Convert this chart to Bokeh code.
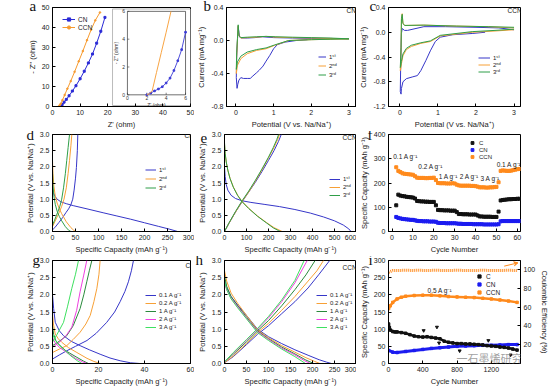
import math
from bokeh.plotting import figure
from bokeh.layouts import column, row
from bokeh.models import (Range1d, LinearAxis, FixedTicker, NumeralTickFormatter, Label, Title,
                          Legend, LegendItem, Arrow, VeeHead)
from bokeh.core.properties import value
from bokeh.embed import file_html
from bokeh.resources import INLINE

SANS = "Liberation Sans"
SERIF = "Liberation Serif"
BLUE = "#3636c8"; ORANGE = "#f7a036"; GREEN = "#2f9e48"
DKGREEN = "#2a8a3c"; MAGENTA = "#ee40e0"; LTGREEN = "#3ee060"
K_C = "#111111"; K_CN = "#1c1cf0"; K_CCN = "#ff8a1c"

# ---------------- data ----------------
# (a) Nyquist
a_cn_x = [3.0, 3.5, 4.2, 5.0, 6.0, 7.2, 8.5, 10.0, 11.5, 13.0, 14.5, 16.0, 17.5, 19.0]
a_cn_y = [0.0, 1.0, 2.2, 3.6, 5.4, 7.8, 10.5, 14.0, 17.8, 22.0, 26.5, 32.0, 38.0, 45.0]
a_ccn_x = [2.2, 2.6, 3.0, 3.6, 4.4, 5.4, 6.6, 8.0, 9.5, 11.0, 12.5, 14.0, 15.5, 17.2]
a_ccn_y = [0.0, 0.6, 1.4, 3.2, 5.8, 9.0, 12.8, 17.5, 22.8, 28.0, 33.5, 38.8, 43.5, 47.5]
ins_cn_x = [2.0, 2.4, 2.8, 3.2, 3.6, 4.0, 4.4, 4.8, 5.2, 5.6, 6.0]
ins_cn_y = [0.0, 0.12, 0.28, 0.42, 0.58, 0.85, 1.2, 1.75, 2.45, 3.25, 4.5]
ins_ccn_x = [2.0, 2.3, 2.55, 3.0, 3.5, 4.0, 4.5]
ins_ccn_y = [0.0, 0.1, 0.27, 1.6, 3.05, 4.5, 6.0]
ins_ticks = [0, 2, 4, 6]

# (b) CV of CN
b1_x = [1.9, 1.6, 1.3, 1.1, 1.0, 0.9, 0.8, 0.72, 0.62, 0.55, 0.45, 0.38, 0.3, 0.2, 0.13, 0.08, 0.05, 0.03, 0.01, 0.02, 0.04, 0.06, 0.08, 0.1, 0.15, 0.3, 0.5, 0.7, 1.0, 1.5, 2.0, 2.5, 3.0]
b1_y = [0.01, 0.0, -0.02, -0.05, -0.1, -0.18, -0.25, -0.31, -0.36, -0.39, -0.43, -0.46, -0.46, -0.46, -0.45, -0.48, -0.53, -0.58, -0.45, -0.2, 0.0, 0.17, 0.1, 0.04, 0.03, 0.03, 0.035, 0.045, 0.035, 0.03, 0.025, 0.025, 0.02]
b2_x = [3.0, 2.5, 2.0, 1.4, 1.02, 0.8, 0.55, 0.3, 0.13, 0.04, 0.02, 0.01, 0.02, 0.04, 0.06, 0.08, 0.13, 0.3, 0.55, 0.8, 1.06, 1.5, 2.0, 2.5, 3.0]
b2_y = [0.02, 0.015, 0.01, 0.0, -0.06, -0.1, -0.12, -0.16, -0.22, -0.3, -0.37, -0.4, -0.2, 0.0, 0.18, 0.06, 0.03, 0.035, 0.04, 0.05, 0.04, 0.035, 0.03, 0.025, 0.02]
b3_x = [3.0, 2.5, 2.0, 1.4, 1.02, 0.8, 0.55, 0.3, 0.13, 0.04, 0.02, 0.01, 0.02, 0.04, 0.06, 0.08, 0.13, 0.3, 0.55, 0.8, 1.06, 1.5, 2.0, 2.5, 3.0]
b3_y = [0.02, 0.015, 0.01, 0.0, -0.055, -0.09, -0.11, -0.14, -0.19, -0.26, -0.32, -0.35, -0.15, 0.02, 0.19, 0.06, 0.035, 0.04, 0.045, 0.05, 0.045, 0.04, 0.035, 0.03, 0.02]

# (c) CV of CCN
c1_x = [2.24, 1.9, 1.39, 1.06, 0.93, 0.8, 0.68, 0.55, 0.46, 0.34, 0.17, 0.08, 0.04, 0.03, 0.01, 0.02, 0.04, 0.06, 0.08, 0.12, 0.2, 0.63, 1.2, 2.0, 2.6, 3.0]
c1_y = [0.0, -0.02, -0.04, -0.08, -0.15, -0.3, -0.46, -0.62, -0.7, -0.72, -0.75, -0.8, -0.91, -1.0, -0.96, -0.54, -0.02, 0.06, 0.05, 0.03, 0.03, 0.09, 0.09, 0.08, 0.07, 0.04]
c2_x = [3.0, 2.5, 1.9, 1.06, 0.8, 0.55, 0.3, 0.17, 0.08, 0.04, 0.02, 0.01, 0.03, 0.04, 0.06, 0.08, 0.13, 0.63, 1.48, 2.32, 3.0]
c2_y = [0.04, 0.02, 0.0, -0.06, -0.15, -0.18, -0.23, -0.28, -0.38, -0.51, -0.6, -0.62, -0.28, 0.2, 0.3, 0.14, 0.11, 0.115, 0.1, 0.09, 0.07]
c3_x = [3.0, 2.5, 1.9, 1.06, 0.8, 0.55, 0.3, 0.17, 0.08, 0.04, 0.02, 0.01, 0.03, 0.04, 0.06, 0.08, 0.13, 0.63, 1.48, 2.32, 3.0]
c3_y = [0.05, 0.03, 0.01, -0.05, -0.14, -0.17, -0.21, -0.26, -0.35, -0.47, -0.55, -0.57, -0.25, 0.22, 0.29, 0.14, 0.11, 0.115, 0.1, 0.09, 0.08]

# (d) CN first three cycles
d1_dis_x = [0, 2, 5, 10, 18, 30, 45, 75, 110, 140, 170, 200, 230, 255, 272]
d1_dis_y = [1.33, 1.2, 1.1, 1.0, 0.92, 0.86, 0.8, 0.7, 0.58, 0.48, 0.38, 0.27, 0.16, 0.07, 0.0]
d1_ch_x = [0, 5, 14, 22, 29, 35, 40, 44, 47, 50, 52, 54, 55]
d1_ch_y = [0.05, 0.12, 0.28, 0.43, 0.58, 0.7, 0.83, 1.0, 1.28, 1.65, 1.98, 2.5, 3.0]
d2_dis_x = [0, 1, 3, 6, 10, 15, 20, 30, 40, 46, 50]
d2_dis_y = [2.2, 1.8, 1.4, 1.1, 0.88, 0.7, 0.55, 0.3, 0.12, 0.04, 0.0]
d2_ch_x = [0, 5, 10, 15, 20, 25, 30, 34, 37, 40, 42]
d2_ch_y = [0.15, 0.3, 0.45, 0.6, 0.78, 1.0, 1.35, 1.8, 2.2, 2.65, 3.0]
d3_dis_x = [0, 1, 3, 6, 10, 15, 20, 28, 35, 40]
d3_dis_y = [1.9, 1.45, 1.1, 0.84, 0.63, 0.46, 0.33, 0.15, 0.04, 0.0]
d3_ch_x = [0, 4, 8, 12, 16, 20, 24, 28, 31, 34, 37]
d3_ch_y = [0.2, 0.33, 0.48, 0.62, 0.78, 1.0, 1.35, 1.8, 2.2, 2.6, 3.0]

# (e) CCN first three cycles
e1_dis_x = [0, 3, 8, 15, 30, 50, 80, 120, 180, 250, 320, 390, 450, 500, 540, 565, 575]
e1_dis_y = [2.0, 1.7, 1.45, 1.28, 1.12, 1.02, 0.95, 0.9, 0.84, 0.77, 0.68, 0.57, 0.45, 0.33, 0.2, 0.08, 0.0]
e1_ch_x = [0, 20, 50, 80, 110, 140, 170, 200, 225, 245, 258]
e1_ch_y = [0.0, 0.25, 0.6, 0.92, 1.22, 1.52, 1.85, 2.2, 2.5, 2.78, 3.0]
e2_dis_x = [0, 3, 8, 15, 25, 40, 60, 80, 110, 150, 190, 225, 250, 262]
e2_dis_y = [2.7, 2.4, 2.15, 1.9, 1.65, 1.38, 1.12, 0.93, 0.72, 0.48, 0.28, 0.12, 0.04, 0.0]
e2_ch_x = [0, 20, 50, 80, 110, 140, 170, 200, 225, 242, 250]
e2_ch_y = [0.0, 0.25, 0.6, 0.93, 1.22, 1.55, 1.9, 2.28, 2.6, 2.85, 3.0]
e3_dis_x = [0, 3, 8, 15, 25, 40, 60, 80, 110, 150, 190, 222, 245, 255]
e3_dis_y = [2.75, 2.42, 2.15, 1.9, 1.64, 1.37, 1.11, 0.92, 0.71, 0.47, 0.27, 0.11, 0.03, 0.0]
e3_ch_x = [0, 20, 50, 80, 110, 140, 170, 200, 222, 238, 246]
e3_ch_y = [0.0, 0.26, 0.62, 0.95, 1.25, 1.58, 1.93, 2.3, 2.6, 2.85, 3.0]

# (f) rate capability
f_cycle = list(range(2, 62))
f_c = [108, 152, 148, 146, 145, 143, 142, 141, 140, 136,
       126, 125, 124, 124, 123, 123, 122, 122, 122, 108,
       89, 88, 88, 87, 87, 87, 86, 86, 86, 80,
       72, 72, 71, 71, 71, 70, 70, 70, 70, 66,
       62, 62, 61, 61, 61, 61, 60, 60, 60, 82,
       128, 130, 131, 132, 133, 133, 134, 134, 135, 135]
f_cn = [60, 56, 54, 52, 51, 50, 49, 48, 48, 46,
        44, 43, 43, 42, 42, 42, 41, 41, 41, 40,
        36, 35, 35, 35, 34, 34, 34, 34, 34, 33,
        32, 32, 31, 31, 31, 31, 31, 30, 30, 30,
        30, 30, 29, 29, 29, 29, 29, 29, 29, 30,
        42, 43, 43, 43, 43, 43, 43, 43, 43, 43]
f_ccn = [265, 250, 245, 240, 238, 237, 236, 235, 234, 228,
         222, 221, 221, 221, 220, 220, 221, 221, 222, 212,
         200, 199, 199, 199, 198, 198, 198, 199, 198, 193,
         190, 189, 189, 189, 189, 189, 188, 188, 187, 185,
         182, 182, 182, 181, 181, 182, 182, 183, 184, 203,
         250, 252, 251, 250, 250, 251, 253, 255, 257, 258]
f_rate_labels = ["0.1 A g\u207b\u00b9", "0.2 A g\u207b\u00b9", "1 A g\u207b\u00b9", "2 A g\u207b\u00b9", "3 A g\u207b\u00b9", "0.1 A g\u207b\u00b9"]
f_rate_x = [6.5, 18.5, 27, 37, 47, 56]
f_rate_y = [310, 266, 226, 226, 218, 278]

# (g) CN rates
g01_dis_x = [0, 0.5, 1.2, 3, 4.8, 8, 12, 16, 20.7, 25, 29.4, 34, 38]
g01_dis_y = [2.0, 1.6, 1.2, 0.95, 0.81, 0.65, 0.52, 0.4, 0.27, 0.16, 0.08, 0.02, 0.0]
g01_ch_x = [0, 3, 6.2, 10, 15, 19, 23.6, 27, 29.4, 31.5, 33, 34.3, 35.2]
g01_ch_y = [0.13, 0.25, 0.37, 0.5, 0.67, 0.88, 1.2, 1.5, 1.8, 2.1, 2.38, 2.7, 3.0]
g02_dis_x = [0, 0.4, 1.2, 2.5, 4, 7, 10.6, 15, 18, 20.7]
g02_dis_y = [1.45, 1.15, 0.86, 0.72, 0.62, 0.46, 0.32, 0.15, 0.06, 0.0]
g02_ch_x = [0, 3, 6.2, 9, 12, 14.5, 16.4, 18, 19.3, 20.2, 20.7]
g02_ch_y = [0.32, 0.42, 0.52, 0.7, 0.91, 1.15, 1.4, 1.8, 2.19, 2.6, 3.0]
g1_dis_x = [0, 0.5, 1.5, 3.3, 6, 10.6, 13.5, 15.6]
g1_dis_y = [1.1, 0.85, 0.66, 0.52, 0.36, 0.18, 0.07, 0.0]
g1_ch_x = [0, 3, 6.2, 9, 12, 13.6, 14.9, 16, 17.1]
g1_ch_y = [0.52, 0.65, 0.81, 1.1, 1.6, 2.0, 2.38, 2.7, 3.0]
g2_dis_x = [0, 1, 3, 6.2, 10, 13, 15]
g2_dis_y = [0.76, 0.62, 0.47, 0.32, 0.15, 0.05, 0.0]
g2_ch_x = [0, 3, 6, 8.4, 10.5, 12, 13.5, 14.9]
g2_ch_y = [0.47, 0.62, 0.82, 1.06, 1.55, 2.09, 2.55, 3.0]
g3_dis_x = [0, 1, 2.5, 4.8, 8, 11, 12.8]
g3_dis_y = [0.86, 0.7, 0.56, 0.42, 0.22, 0.07, 0.0]
g3_ch_x = [0, 2, 4.8, 6.5, 8.4, 10, 11.3]
g3_ch_y = [0.62, 0.85, 1.2, 1.65, 2.19, 2.6, 3.0]

# (h) CCN rates
h01_dis_x = [0, 5, 15, 30, 50, 75, 100, 130, 160, 190, 215, 232, 243]
h01_dis_y = [2.45, 2.2, 1.95, 1.7, 1.4, 1.0, 0.78, 0.58, 0.4, 0.24, 0.11, 0.04, 0.0]
h01_ch_x = [0, 20, 50, 75, 100, 130, 160, 190, 215, 239]
h01_ch_y = [0.02, 0.2, 0.55, 0.85, 1.1, 1.45, 1.8, 2.2, 2.6, 3.0]
h02_dis_x = [0, 5, 15, 30, 50, 75, 100, 130, 160, 185, 205, 217]
h02_dis_y = [2.7, 2.4, 2.05, 1.75, 1.4, 0.98, 0.75, 0.52, 0.33, 0.17, 0.06, 0.0]
h02_ch_x = [0, 20, 50, 75, 100, 130, 160, 190, 210, 225]
h02_ch_y = [0.02, 0.22, 0.58, 0.9, 1.17, 1.55, 1.95, 2.4, 2.7, 3.0]
h1_dis_x = [0, 5, 15, 30, 50, 75, 100, 130, 160, 185, 203]
h1_dis_y = [2.55, 2.25, 1.95, 1.68, 1.35, 0.95, 0.72, 0.48, 0.28, 0.1, 0.0]
h1_ch_x = [0, 20, 50, 75, 100, 130, 160, 185, 206]
h1_ch_y = [0.05, 0.27, 0.63, 0.95, 1.25, 1.68, 2.15, 2.58, 3.0]
h2_dis_x = [0, 5, 15, 30, 50, 75, 100, 130, 160, 182, 195]
h2_dis_y = [2.35, 2.15, 1.9, 1.65, 1.32, 0.93, 0.7, 0.45, 0.25, 0.08, 0.0]
h2_ch_x = [0, 20, 50, 75, 100, 130, 160, 188]
h2_ch_y = [0.05, 0.3, 0.68, 1.0, 1.33, 1.8, 2.35, 3.0]
h3_dis_x = [0, 5, 15, 30, 50, 75, 100, 130, 160, 184]
h3_dis_y = [2.4, 2.15, 1.88, 1.62, 1.3, 0.9, 0.67, 0.42, 0.2, 0.0]
h3_ch_x = [0, 20, 50, 75, 100, 130, 160, 181]
h3_ch_y = [0.05, 0.32, 0.7, 1.02, 1.37, 1.85, 2.42, 3.0]

# (i) long cycling at 0.5 A/g
i_ccn_x = [1, 20, 50, 100, 150, 200, 300, 400, 500, 600, 700, 800, 900, 1000, 1100, 1200, 1300, 1400, 1500]
i_ccn_y = [160, 168, 178, 188, 193, 196, 198, 199, 199, 197, 195, 194, 193, 192, 190, 188, 185, 182, 178]
i_c_x = [1, 10, 25, 50, 75, 100, 150, 200, 250, 300, 350, 400, 450, 500, 550, 600, 650, 700, 750, 800, 850, 900, 950, 1000, 1050, 1100, 1150, 1200, 1250, 1300, 1350, 1400, 1450, 1500]
i_c_y = [115, 105, 97, 93, 92, 92, 90, 88, 84, 80, 78, 77, 78, 76, 74, 72, 65, 62, 60, 58, 58, 57, 57, 56, 55, 54, 52, 51, 50, 48, 47, 45, 42, 39]
i_c_out_x = [410, 565, 590, 830, 1165, 1425]
i_c_out_y = [96, 106, 60, 37, 67, 25]
i_cn_x = [1, 50, 100, 200, 300, 400, 500, 600, 700, 800, 900, 1000, 1100, 1200, 1300, 1400, 1500]
i_cn_y = [38, 33, 32, 35, 38, 41, 44, 46, 48, 50, 51, 52, 53, 53, 54, 55, 55]
i_ce_x = [1, 50, 100, 150, 200, 250, 300, 350, 400, 450, 500, 550, 600, 650, 700, 750, 800, 850, 900, 950, 1000, 1050, 1100, 1150, 1200, 1250, 1300, 1350, 1400, 1450, 1500]
i_ce_y = [97, 98.8, 99, 99, 99.1, 99, 99, 99.1, 99, 99, 99, 99.1, 99, 99, 99, 99, 99.1, 99, 99, 99, 99, 99, 99.1, 99, 99, 99, 99, 99, 99.1, 99, 99]

# ---------------- layout (page has no margin: origin at 0,0) ----------------
COLS = [(194, 52, 4), (162, 26, 0), (198, 27, 34)]   # width, border left, border right
ROWS = [(131, 7, 22), (125, 3, 22), (133, 4, 26)]     # height, border top, border bottom


def style_axis(ax):
    ax.major_tick_in = 3
    ax.major_tick_out = 0
    ax.minor_tick_in = 0
    ax.minor_tick_out = 0
    ax.axis_line_color = "black"
    ax.major_tick_line_color = "black"
    ax.major_label_text_font = SANS
    ax.major_label_text_font_size = "7px"
    ax.major_label_text_color = "#222222"
    ax.axis_label_text_font = SANS
    ax.axis_label_text_font_size = "7.5px"
    ax.axis_label_text_font_style = "normal"
    ax.axis_label_text_color = "#222222"
    ax.major_label_standoff = 3
    ax.axis_label_standoff = 2


def make(ci, ri, xr, yr, xt, yt, xf, yf, xl, yl):
    w, bl, br = COLS[ci]
    h, bt, bb = ROWS[ri]
    p = figure(width=w, height=h, x_range=Range1d(*xr), y_range=Range1d(*yr),
               output_backend="svg", toolbar_location=None,
               min_border_left=bl, min_border_right=br, min_border_top=bt, min_border_bottom=bb)
    p.xgrid.visible = False
    p.ygrid.visible = False
    p.outline_line_color = "black"
    p.outline_line_alpha = 1.0
    p.outline_line_width = 1
    p.xaxis.ticker = FixedTicker(ticks=xt)
    p.yaxis.ticker = FixedTicker(ticks=yt)
    p.xaxis.formatter = NumeralTickFormatter(format=xf)
    p.yaxis.formatter = NumeralTickFormatter(format=yf)
    p.xaxis.axis_label = xl
    p.yaxis.axis_label = yl
    style_axis(p.xaxis[0])
    style_axis(p.yaxis[0])
    return p, w - bl - br, h - bt - bb, bt


def letter(p, t, off, bt):
    # panel letter drawn as a side title that reaches down next to the frame's top-left corner
    p.add_layout(Title(text=t, align="left", vertical_align="bottom", offset=off,
                       standoff=bt - 19, text_font=SERIF, text_font_size="15px",
                       text_font_style="normal", text_color="#111111"), "above")


def tag(p, t, x, y, align="right"):
    p.add_layout(Label(x=x, y=y, x_units="screen", y_units="screen", text=t,
                       text_font=SANS, text_font_size="6.5px", text_align=align,
                       text_baseline="middle", text_color="#222222"))


def legend(p, entries, vx, vy, gw, ih, fs="6.5px"):
    items = [LegendItem(label=lab, renderers=rs) for lab, rs in entries]
    lg = Legend(items=items, location=(vx, vy), padding=0, margin=0, spacing=0,
                glyph_width=gw, glyph_height=ih, label_height=ih, label_standoff=3,
                label_text_font=SANS, label_text_font_size=fs, label_text_color="#222222",
                background_fill_alpha=0, border_line_alpha=0)
    p.add_layout(lg)


POT = "Potential (V vs. Na/Na\u207a)"
CUR = "Current (mA mg\u207b\u00b9)"
CAP = "Specific Capacity (mAh g\u207b\u00b9)"
SUP = ["1\u02e2\u1d57", "2\u207f\u1d48", "3\u02b3\u1d48"]

# ---- (a)
pa, fwa, fha, bta = make(0, 0, (0, 50), (0, 50), [0, 10, 20, 30, 40, 50], [0, 10, 20, 30, 40, 50],
                         "0", "0", "Z' (ohm)", "- Z'' (ohm)")
ra1 = pa.line(a_cn_x, a_cn_y, color="#2a2ad6", line_width=1)
ra1m = pa.scatter(a_cn_x, a_cn_y, marker="square", size=2, color="#2a2ad6")
ra2 = pa.line(a_ccn_x, a_ccn_y, color="#f79a2e", line_width=1)
ra2m = pa.scatter(a_ccn_x, a_ccn_y, marker="circle", size=1.6, color="#f79a2e")
legend(pa, [("CN", [ra1, ra1m]), ("CCN", [ra2, ra2m])], 10, 75, 13, 8)
# inset placed with its own ranges
fx0, fx1, fy0, fy1 = 0.543, 0.964, 0.118, 0.961
sx = 6 / (fx1 - fx0)
sy = 6 / (fy1 - fy0)
pa.extra_x_ranges = {"ix": Range1d(-fx0 * sx, -fx0 * sx + sx)}
pa.extra_y_ranges = {"iy": Range1d(-fy0 * sy, -fy0 * sy + sy)}
ox0 = -fx0 * sx + 0.435 * sx
oy0 = -fy0 * sy + 0.01 * sy
oy1 = -fy0 * sy + 0.985 * sy
pa.quad(left=[ox0], right=[-fx0 * sx + sx], bottom=[oy0], top=[oy1], fill_color="white",
        line_color="#aaaaaa", line_width=0.8, x_range_name="ix", y_range_name="iy")
pa.quad(left=[ins_ticks[0]], right=[ins_ticks[-1]], bottom=[ins_ticks[0]], top=[ins_ticks[-1]],
        fill_color=None, line_color="#333333", line_width=0.7, x_range_name="ix", y_range_name="iy")
pa.segment(x0=ins_ticks, y0=[0] * 4, x1=ins_ticks, y1=[0.15] * 4, color="#333333", line_width=0.6,
           x_range_name="ix", y_range_name="iy")
pa.segment(x0=[0] * 4, y0=ins_ticks, x1=[0.2] * 4, y1=ins_ticks, color="#333333", line_width=0.6,
           x_range_name="ix", y_range_name="iy")
pa.line(ins_cn_x, ins_cn_y, color="#3b3bd6", line_width=0.9, x_range_name="ix", y_range_name="iy")
pa.scatter(ins_cn_x, ins_cn_y, marker="square", size=1.6, color="#3b3bd6", x_range_name="ix", y_range_name="iy")
pa.line(ins_ccn_x, ins_ccn_y, color="#f79a2e", line_width=0.9, x_range_name="ix", y_range_name="iy")
pa.text(x=ins_ticks, y=[-0.12] * 4, text=[str(t) for t in ins_ticks], text_font=value(SANS),
        text_font_size=value("5px"), text_align="center", text_baseline="top", text_color="#333333",
        x_range_name="ix", y_range_name="iy")
pa.text(x=[-0.25] * 4, y=ins_ticks, text=[str(t) for t in ins_ticks], text_font=value(SANS),
        text_font_size=value("5px"), text_align="right", text_baseline="middle", text_color="#333333",
        x_range_name="ix", y_range_name="iy")
pa.text(x=[3], y=[-0.5], text=["Z' (ohm)"], text_font=value(SANS), text_font_size=value("5px"),
        text_align="center", text_baseline="top", text_color="#333333", x_range_name="ix", y_range_name="iy")
pa.text(x=[-1.15], y=[3], text=["- Z'' (ohm)"], text_font=value(SANS), text_font_size=value("5px"),
        text_align="center", text_baseline="middle", angle=math.pi / 2, text_color="#333333",
        x_range_name="ix", y_range_name="iy")
letter(pa, "a", -23, bta)

# ---- (b)
pb, fwb, fhb, btb = make(1, 0, (-0.25, 3.2), (-0.8, 0.4), [0, 1, 2, 3], [-0.8, -0.4, 0.0, 0.4],
                         "0", "0.0", POT, CUR)
rb1 = pb.line(b1_x, b1_y, color=BLUE, line_width=1)
rb2 = pb.line(b2_x, b2_y, color=ORANGE, line_width=1)
rb3 = pb.line(b3_x, b3_y, color=GREEN, line_width=1)
legend(pb, [(SUP[0], [rb1]), (SUP[1], [rb2]), (SUP[2], [rb3])], 92, 27, 8, 9, "6px")
tag(pb, "CN", fwb - 16, fhb - 6, "left")
letter(pb, "b", -23, btb)

# ---- (c)
pc, fwc, fhc, btc = make(2, 0, (-0.3, 3.17), (-1.2, 0.4), [0, 1, 2, 3], [-1.2, -0.8, -0.4, 0.0, 0.4],
                         "0", "0.0", POT, CUR)
rc1 = pc.line(c1_x, c1_y, color=BLUE, line_width=1)
rc2 = pc.line(c2_x, c2_y, color=ORANGE, line_width=1)
rc3 = pc.line(c3_x, c3_y, color=GREEN, line_width=1)
legend(pc, [(SUP[0], [rc1]), (SUP[1], [rc2]), (SUP[2], [rc3])], 90, 31, 12, 7, "6px")
tag(pc, "CCN", fwc - 18, fhc - 6, "left")
letter(pc, "c", -19, btc)

# ---- (d)
pd, fwd, fhd, btd = make(0, 1, (0, 300), (0, 3), [0, 50, 100, 150, 200, 250, 300], [0, 0.5, 1, 1.5, 2, 2.5, 3],
                         "0", "0.0", CAP, POT)
rd1 = pd.line(d1_dis_x, d1_dis_y, color=BLUE, line_width=1)
pd.line(d1_ch_x, d1_ch_y, color=BLUE, line_width=1)
rd2 = pd.line(d2_dis_x, d2_dis_y, color=ORANGE, line_width=1)
pd.line(d2_ch_x, d2_ch_y, color=ORANGE, line_width=1)
rd3 = pd.line(d3_dis_x, d3_dis_y, color=GREEN, line_width=1)
pd.line(d3_ch_x, d3_ch_y, color=GREEN, line_width=1)
legend(pd, [(SUP[0], [rd1]), (SUP[1], [rd2]), (SUP[2], [rd3])], 93, 39, 11, 9, "6px")
tag(pd, "CN", fwd - 6, fhd - 4, "left")
letter(pd, "d", -26, btd)

# ---- (e)
pe, fwe, fhe, bte = make(1, 1, (0, 600), (0, 3), [0, 100, 200, 300, 400, 500, 600], [0, 0.5, 1, 1.5, 2, 2.5, 3],
                         "0", "0.0", CAP, POT)
re1 = pe.line(e1_dis_x, e1_dis_y, color=BLUE, line_width=1)
pe.line(e1_ch_x, e1_ch_y, color=BLUE, line_width=1)
re2 = pe.line(e2_dis_x, e2_dis_y, color=ORANGE, line_width=1)
pe.line(e2_ch_x, e2_ch_y, color=ORANGE, line_width=1)
re3 = pe.line(e3_dis_x, e3_dis_y, color=GREEN, line_width=1)
pe.line(e3_ch_x, e3_ch_y, color=GREEN, line_width=1)
legend(pe, [(SUP[0], [re1]), (SUP[1], [re2]), (SUP[2], [re3])], 105, 32, 11, 8, "6px")
tag(pe, "CCN", fwe - 18, fhe - 6, "left")
letter(pe, "e", -24, bte)

# ---- (f)
pf, fwf, fhf, btf = make(2, 1, (-1.7, 61.5), (0, 400), [0, 10, 20, 30, 40, 50, 60], [0, 100, 200, 300, 400],
                         "0", "0", "Cycle Number", CAP)
rf1 = pf.scatter(f_cycle, f_c, marker="square", size=3, color=K_C)
rf2 = pf.scatter(f_cycle, f_cn, marker="square", size=3, color=K_CN)
rf3 = pf.scatter(f_cycle, f_ccn, marker="square", size=3, color=K_CCN)
legend(pf, [("C", [rf1]), ("CN", [rf2]), ("CCN", [rf3])], 80, 71, 8, 7, "6px")
for t, x, y in zip(f_rate_labels, f_rate_x, f_rate_y):
    pf.add_layout(Label(x=x, y=y, text=t, text_font=SANS, text_font_size="6.5px",
                        text_align="center", text_baseline="middle", text_color="#222222"))
letter(pf, "f", -21, btf)

# ---- (g)
pg, fwg, fhg, btg = make(0, 2, (0, 60), (0, 3), [0, 20, 40, 60], [0, 0.5, 1, 1.5, 2, 2.5, 3],
                         "0", "0.0", CAP, POT)
RATES = ["0.1 A g\u207b\u00b9", "0.2 A g\u207b\u00b9", "1 A g\u207b\u00b9", "2 A g\u207b\u00b9", "3 A g\u207b\u00b9"]
RCOL = [BLUE, ORANGE, DKGREEN, MAGENTA, LTGREEN]
gsets = [(g01_dis_x, g01_dis_y, g01_ch_x, g01_ch_y), (g02_dis_x, g02_dis_y, g02_ch_x, g02_ch_y),
         (g1_dis_x, g1_dis_y, g1_ch_x, g1_ch_y), (g2_dis_x, g2_dis_y, g2_ch_x, g2_ch_y),
         (g3_dis_x, g3_dis_y, g3_ch_x, g3_ch_y)]
gents = []
for (dx, dy, cx, cy), col, lab in zip(gsets, RCOL, RATES):
    r = pg.line(dx, dy, color=col, line_width=1)
    pg.line(cx, cy, color=col, line_width=1)
    gents.append((lab, [r]))
legend(pg, gents, 93, 32, 11, 8, "6px")
tag(pg, "CN", fwg - 5, fhg - 5, "left")
letter(pg, "g", -20, btg)

# ---- (h)
ph, fwh, fhh, bth = make(1, 2, (0, 300), (0, 3), [0, 50, 100, 150, 200, 250, 300], [0, 0.5, 1, 1.5, 2, 2.5, 3],
                         "0", "0.0", CAP, POT)
hsets = [(h01_dis_x, h01_dis_y, h01_ch_x, h01_ch_y), (h02_dis_x, h02_dis_y, h02_ch_x, h02_ch_y),
         (h1_dis_x, h1_dis_y, h1_ch_x, h1_ch_y), (h2_dis_x, h2_dis_y, h2_ch_x, h2_ch_y),
         (h3_dis_x, h3_dis_y, h3_ch_x, h3_ch_y)]
hents = []
for (dx, dy, cx, cy), col, lab in zip(hsets, RCOL, RATES):
    r = ph.line(dx, dy, color=col, line_width=1)
    ph.line(cx, cy, color=col, line_width=1)
    hents.append((lab, [r]))
legend(ph, hents, 92, 32, 11, 8, "6px")
tag(ph, "CCN", fwh - 18, fhh - 7, "left")
letter(ph, "h", -29, bth)

# ---- (i)
pi_, fwi, fhi, bti = make(2, 2, (0, 1540), (0, 300), [0, 400, 800, 1200], [0, 50, 100, 150, 200, 250, 300],
                          "0", "0", "Cycle Number", CAP)
pi_.extra_y_ranges = {"ce": Range1d(0, 109.5)}
rax = LinearAxis(y_range_name="ce", ticker=FixedTicker(ticks=[20, 40, 60, 80, 100]),
                 formatter=NumeralTickFormatter(format="0"), axis_label="Coulombic Efficiency (%)")
style_axis(rax)
pi_.add_layout(rax, "right")
pi_.line(i_ce_x, i_ce_y, color=K_CCN, line_width=3, line_dash="1 1", y_range_name="ce")
pi_.line(i_ccn_x, i_ccn_y, color=K_CCN, line_width=2.5)
li3 = pi_.scatter(i_ccn_x, i_ccn_y, marker="square", size=2.5, color=K_CCN)
pi_.line(i_cn_x, i_cn_y, color=K_CN, line_width=3)
li2 = pi_.scatter(i_cn_x, i_cn_y, marker="square", size=2.5, color=K_CN)
pi_.line(i_c_x, i_c_y, color=K_C, line_width=2.5)
li1 = pi_.scatter(i_c_x, i_c_y, marker="square", size=2.5, color=K_C)
pi_.scatter(i_c_out_x, i_c_out_y, marker="inverted_triangle", size=3, color=K_C)
legend(pi_, [("C", [li1]), ("CN", [li2]), ("CCN", [li3])], 87, 67, 8, 8, "6.5px")
pi_.add_layout(Label(x=600, y=213, text="0.5 A g\u207b\u00b9", text_font=SANS, text_font_size="6.5px",
                     text_align="center", text_baseline="middle", text_color="#222222"))
pi_.add_layout(Arrow(end=VeeHead(size=4, line_color=K_CCN, fill_color=K_CCN, line_width=1),
                     x_start=1350, y_start=103.5, x_end=1510, y_end=107, line_color=K_CCN,
                     line_width=1, y_range_name="ce"))
pi_.add_layout(Label(x=68, y=6, x_units="screen", y_units="screen", text="\u4e00\u77f3\u58a8\u70ef\u7814\u7a76",
                     text_font="Noto Sans CJK SC", text_font_size="11px", text_baseline="middle",
                     text_color="#888888", text_alpha=0.8))
letter(pi_, "i", -20, bti)

layout = column(row(pa, pb, pc), row(pd, pe, pf), row(pg, ph, pi_))
open("out.html", "w").write(file_html(layout, INLINE))
